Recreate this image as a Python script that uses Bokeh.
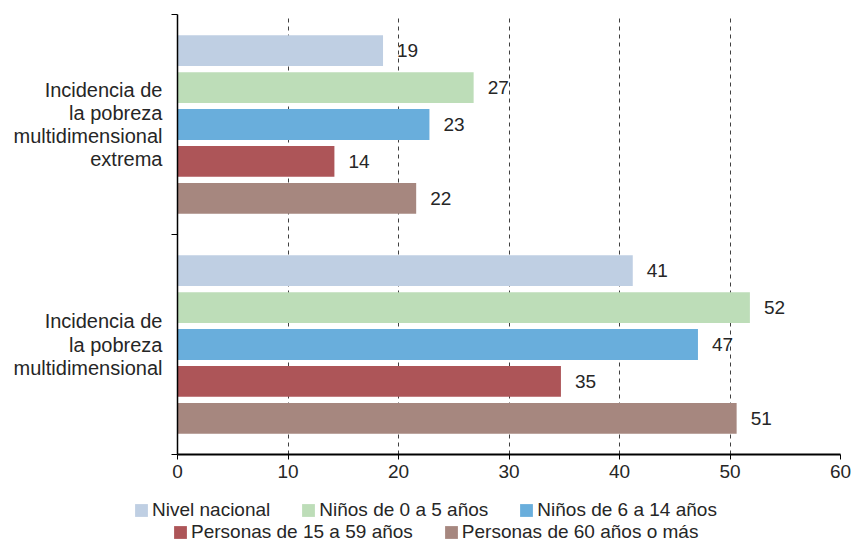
from bokeh.plotting import figure
from bokeh.layouts import column, row
from bokeh.models import ColumnDataSource, Range1d, FixedTicker, Legend, LegendItem
from bokeh.transform import dodge
from bokeh.core.properties import value
from bokeh.embed import file_html
from bokeh.resources import INLINE

# ---- data ----
categories = [
    "Incidencia de\nla pobreza\nmultidimensional",
    "Incidencia de\nla pobreza\nmultidimensional\nextrema",
]
series = [
    "Nivel nacional",
    "Niños de 0 a 5 años",
    "Niños de 6 a 14 años",
    "Personas de 15 a 59 años",
    "Personas de 60 años o más",
]
nivel_nacional = [41.2, 18.6]
ninos_0_5 = [51.8, 26.8]
ninos_6_14 = [47.1, 22.8]
personas_15_59 = [34.7, 14.2]
personas_60_mas = [50.6, 21.6]
series_values = [nivel_nacional, ninos_0_5, ninos_6_14, personas_15_59, personas_60_mas]
colors = ["#BFCFE3", "#BDDDB8", "#69AEDC", "#AD5558", "#A6877F"]
x_ticks = [0, 10, 20, 30, 40, 50, 60]

FONT = "Liberation Sans"
TXT = "#262626"

W = 852
H_MAIN, H_LEG = 490, 53
p = figure(
    width=W, height=H_MAIN,
    x_range=Range1d(0, 60), y_range=Range1d(0, len(categories)),
    output_backend="svg", toolbar_location=None,
    min_border_left=177, min_border_right=12, min_border_top=14, min_border_bottom=36,
)
p.outline_line_color = None

# grid
p.ygrid.grid_line_color = None
p.xgrid.ticker = FixedTicker(ticks=x_ticks)
p.xgrid.grid_line_color = "#404040"
p.xgrid.grid_line_dash = "4 4"
p.xgrid.grid_line_width = 1

# x axis
p.xaxis.ticker = FixedTicker(ticks=x_ticks)
p.xaxis.axis_line_color = "black"
p.xaxis.axis_line_width = 2
p.xaxis.major_tick_line_color = "black"
p.xaxis.major_tick_out = 5
p.xaxis.major_tick_in = 0
p.xaxis.minor_tick_line_color = None
p.xaxis.major_label_text_font = FONT
p.xaxis.major_label_text_font_size = "19px"
p.xaxis.major_label_text_color = TXT
p.xaxis.major_label_standoff = 5

# y axis: labels at category centres, ticks at category boundaries
centers = [i + 0.5 for i in range(len(categories))]
bounds = [float(i) for i in range(len(categories) + 1)]
p.yaxis.ticker = FixedTicker(ticks=centers, minor_ticks=bounds)
p.yaxis.major_label_overrides = {c: lab for c, lab in zip(centers, categories)}
p.yaxis.axis_line_color = "black"
p.yaxis.axis_line_width = 1.5
p.yaxis.major_tick_line_color = None
p.yaxis.major_tick_out = 0
p.yaxis.major_tick_in = 0
p.yaxis.minor_tick_line_color = "black"
p.yaxis.minor_tick_out = 6
p.yaxis.minor_tick_in = 0
p.yaxis.major_label_standoff = 9
p.yaxis.major_label_text_font = FONT
p.yaxis.major_label_text_font_size = "20px"
p.yaxis.major_label_text_color = TXT
p.yaxis.major_label_text_line_height = 1.05

bar_h = 0.14
step = 0.168
n = len(series)

sources = []
for j, (name, vals, col) in enumerate(zip(series, series_values, colors)):
    off = ((n - 1) / 2 - j) * step
    src = ColumnDataSource(dict(
        y=centers, x=vals, lab=[str(int(round(v))) for v in vals]
    ))
    sources.append(src)
    p.hbar(y=dodge("y", off), right="x", left=0, height=bar_h, source=src,
           fill_color=col, line_color=None)
    p.text(x="x", y=dodge("y", off), text="lab", source=src,
           x_offset=14, text_align="left", text_baseline="middle",
           text_font=value(FONT), text_font_size="19px", text_color=TXT)

# ---- legend strip: second figure whose view shows no bars, only the legends ----
pl = figure(width=W, height=H_LEG, x_range=Range1d(0, 60),
            y_range=Range1d(len(categories) + 5, len(categories) + 6),
            x_axis_type=None, y_axis_type=None, output_backend="svg",
            toolbar_location=None, min_border=0)
pl.outline_line_color = None
pl.grid.visible = False
leg_renderers = []
for src, col in zip(sources, colors):
    r = pl.hbar(y="y", right="x", left=0, height=bar_h, source=src,
                fill_color=col, line_color=None)
    leg_renderers.append(r)


def mk_legend(items, loc):
    return Legend(items=items, location=loc, orientation="horizontal",
                  border_line_color=None, background_fill_alpha=0,
                  padding=0, margin=0, spacing=30, label_standoff=3,
                  glyph_width=16, glyph_height=16, label_height=20,
                  label_text_font=FONT, label_text_font_size="19px",
                  label_text_color=TXT)


lg1 = mk_legend([LegendItem(label=series[k], renderers=[leg_renderers[k]]) for k in range(3)], (133, 22))
lg2 = mk_legend([LegendItem(label=series[k], renderers=[leg_renderers[k]]) for k in range(3, 5)], (172, 0))
pl.add_layout(lg1, "center")
pl.add_layout(lg2, "center")

layout = column(p, row(pl), spacing=0)
open("out.html", "w").write(file_html(layout, INLINE))
